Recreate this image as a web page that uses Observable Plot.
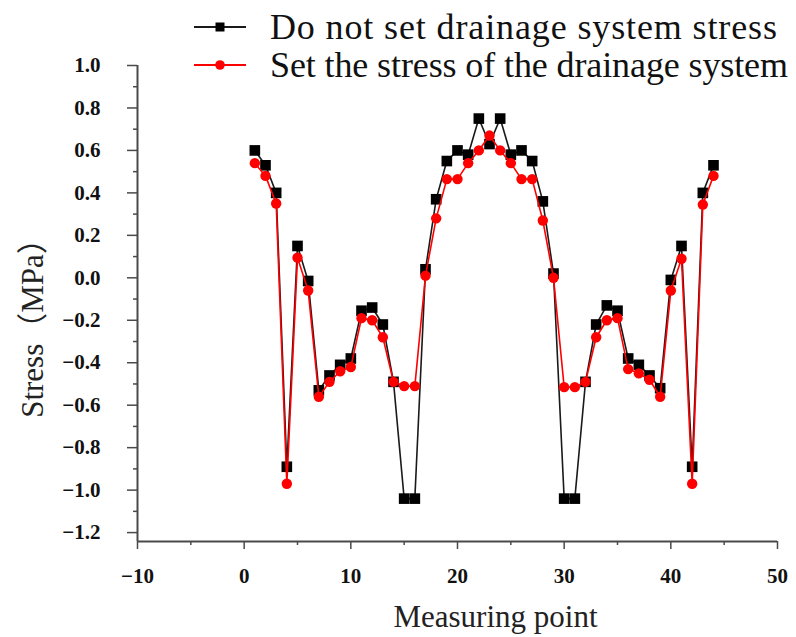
<!DOCTYPE html>
<html>
<head>
<meta charset="utf-8">
<script src="https://cdn.jsdelivr.net/npm/d3@7"></script>
<script src="https://cdn.jsdelivr.net/npm/@observablehq/plot@0.6"></script>
<style>
  html, body { margin: 0; padding: 0; background: #fff; }
  #wrap { position: relative; width: 796px; height: 637px; overflow: hidden; }
</style>
</head>
<body>
<div id="wrap">
  <div id="chart"></div>
  <svg id="legend" width="796" height="90"></svg>
</div>
<script>
// ---- data ----
const points = [1,2,3,4,5,6,7,8,9,10,11,12,13,14,15,16,17,18,19,20,21,22,23,24,25,26,27,28,29,30,31,32,33,34,35,36,37,38,39,40,41,42,43,44];
const noDrainage = [0.60,0.53,0.40,-0.89,0.15,-0.015,-0.53,-0.46,-0.41,-0.38,-0.155,-0.14,-0.22,-0.49,-1.04,-1.04,0.04,0.37,0.55,0.60,0.58,0.75,0.63,0.75,0.58,0.60,0.55,0.36,0.02,-1.04,-1.04,-0.49,-0.22,-0.13,-0.155,-0.38,-0.41,-0.46,-0.52,-0.01,0.15,-0.89,0.40,0.53];
const withDrainage = [0.54,0.48,0.35,-0.97,0.095,-0.06,-0.56,-0.49,-0.44,-0.42,-0.19,-0.20,-0.28,-0.49,-0.51,-0.51,0.01,0.28,0.465,0.465,0.54,0.60,0.67,0.60,0.54,0.465,0.465,0.27,0.0,-0.515,-0.515,-0.49,-0.28,-0.20,-0.19,-0.43,-0.45,-0.48,-0.56,-0.06,0.09,-0.97,0.345,0.48];
const seriesNames = ["Do not set drainage system stress", "Set the stress of the drainage system"];
const xTicks = [-10, 0, 10, 20, 30, 40, 50];
const xMinorTicks = [-5, 5, 15, 25, 35, 45];
const yTicks = [-1.2, -1.0, -0.8, -0.6, -0.4, -0.2, 0.0, 0.2, 0.4, 0.6, 0.8, 1.0];
const yMinorTicks = [-1.1, -0.9, -0.7, -0.5, -0.3, -0.1, 0.1, 0.3, 0.5, 0.7, 0.9];
const xDomain = [-10, 50];
const yDomain = [-1.242, 1.0];
const xLabel = "Measuring point";
const yLabel = "Stress（MPa）";

const black = points.map((p, i) => ({x: p, y: noDrainage[i]}));
const red = points.map((p, i) => ({x: p, y: withDrainage[i]}));

const fmtY = d => (d < 0 ? "\u2212" : "") + Math.abs(d).toFixed(1);
const fmtX = d => (d < 0 ? "\u2212" : "") + Math.abs(d);
const axisColor = "#4a4a4a";
const serif = "'Liberation Serif', 'Times New Roman', serif";

const chart = Plot.plot({
  width: 796,
  height: 637,
  marginLeft: 137,
  marginRight: 19,
  marginTop: 65,
  marginBottom: 96,
  style: {background: "#fff", color: "#111", fontFamily: serif},
  x: {domain: xDomain},
  y: {domain: yDomain},
  marks: [
    // axis lines
    Plot.ruleX([xDomain[0]], {y1: yDomain[0], y2: yDomain[1], stroke: axisColor, strokeWidth: 2}),
    Plot.ruleY([yDomain[0]], {x1: xDomain[0], x2: xDomain[1], stroke: axisColor, strokeWidth: 2}),
    // major / minor ticks
    Plot.axisY({ticks: yTicks, tickSize: 10, tickPadding: 27, tickFormat: fmtY, stroke: axisColor, strokeWidth: 1.5, label: null}),
    Plot.axisY({ticks: yMinorTicks, tickSize: 4, tickFormat: () => "", stroke: axisColor, strokeWidth: 1.5, label: null}),
    Plot.axisX({ticks: xTicks, tickSize: 8, tickPadding: 19, tickFormat: fmtX, stroke: axisColor, strokeWidth: 1.5, label: null}),
    Plot.axisX({ticks: xMinorTicks, tickSize: 4, tickFormat: () => "", stroke: axisColor, strokeWidth: 1.5, label: null}),
    // axis titles
    Plot.text([yLabel], {frameAnchor: "left", text: d => d, textAnchor: "middle", lineAnchor: "middle", rotate: -90, dx: -104, dy: 17, fill: "#222", fontFamily: "'Liberation Serif', 'Noto Sans CJK SC', serif"}),
    Plot.text([xLabel], {frameAnchor: "bottom", text: d => d, textAnchor: "middle", lineAnchor: "middle", dx: 38, dy: 76, fill: "#222", fontFamily: serif}),
    // series
    Plot.line(black, {x: "x", y: "y", stroke: "#1a1a1a", strokeWidth: 1.6}),
    Plot.dot(black, {x: "x", y: "y", symbol: "square", r: 6, fill: "#000", stroke: "none"}),
    Plot.line(red, {x: "x", y: "y", stroke: "#ff0000", strokeWidth: 1.6}),
    Plot.dot(red, {x: "x", y: "y", symbol: "circle", r: 5.2, fill: "#ff0000", stroke: "none"})
  ]
});
document.getElementById("chart").appendChild(chart);

// text styles: tick labels bold serif 21px, titles regular 31px
d3.select(chart).selectAll("text").each(function() {
  const t = this.textContent;
  const s = this.style;
  if (t === xLabel || t === yLabel) {
    s.setProperty("font-size", "31px");
    s.setProperty("font-weight", "normal");
  } else {
    s.setProperty("font-size", "21px");
    s.setProperty("font-weight", "bold");
    s.setProperty("font-family", serif);
    s.setProperty("fill", "#111");
  }
});

// legend (drawn as SVG text over the top of the chart)
const legend = d3.select("#legend").style("position", "absolute").style("left", "0").style("top", "0");
const legendColors = ["#1a1a1a", "#ff0000"];
const legendWidths = [507, 518];
seriesNames.forEach((name, i) => {
  const cy = 27 + i * 38;
  const g = legend.append("g");
  g.append("line").attr("x1", 194).attr("x2", 246).attr("y1", cy).attr("y2", cy)
    .attr("stroke", legendColors[i]).attr("stroke-width", 2);
  if (i === 0) g.append("rect").attr("x", 215.5).attr("y", cy - 4.5).attr("width", 9).attr("height", 9).attr("fill", "#000");
  else g.append("circle").attr("cx", 220).attr("cy", cy).attr("r", 4.8).attr("fill", "#ff0000");
  g.append("text").attr("x", 270).attr("y", cy + 12)
    .attr("font-family", serif).attr("font-size", 36).attr("fill", "#111")
    .attr("textLength", legendWidths[i]).attr("lengthAdjust", "spacing")
    .text(name);
});
</script>
</body>
</html>
